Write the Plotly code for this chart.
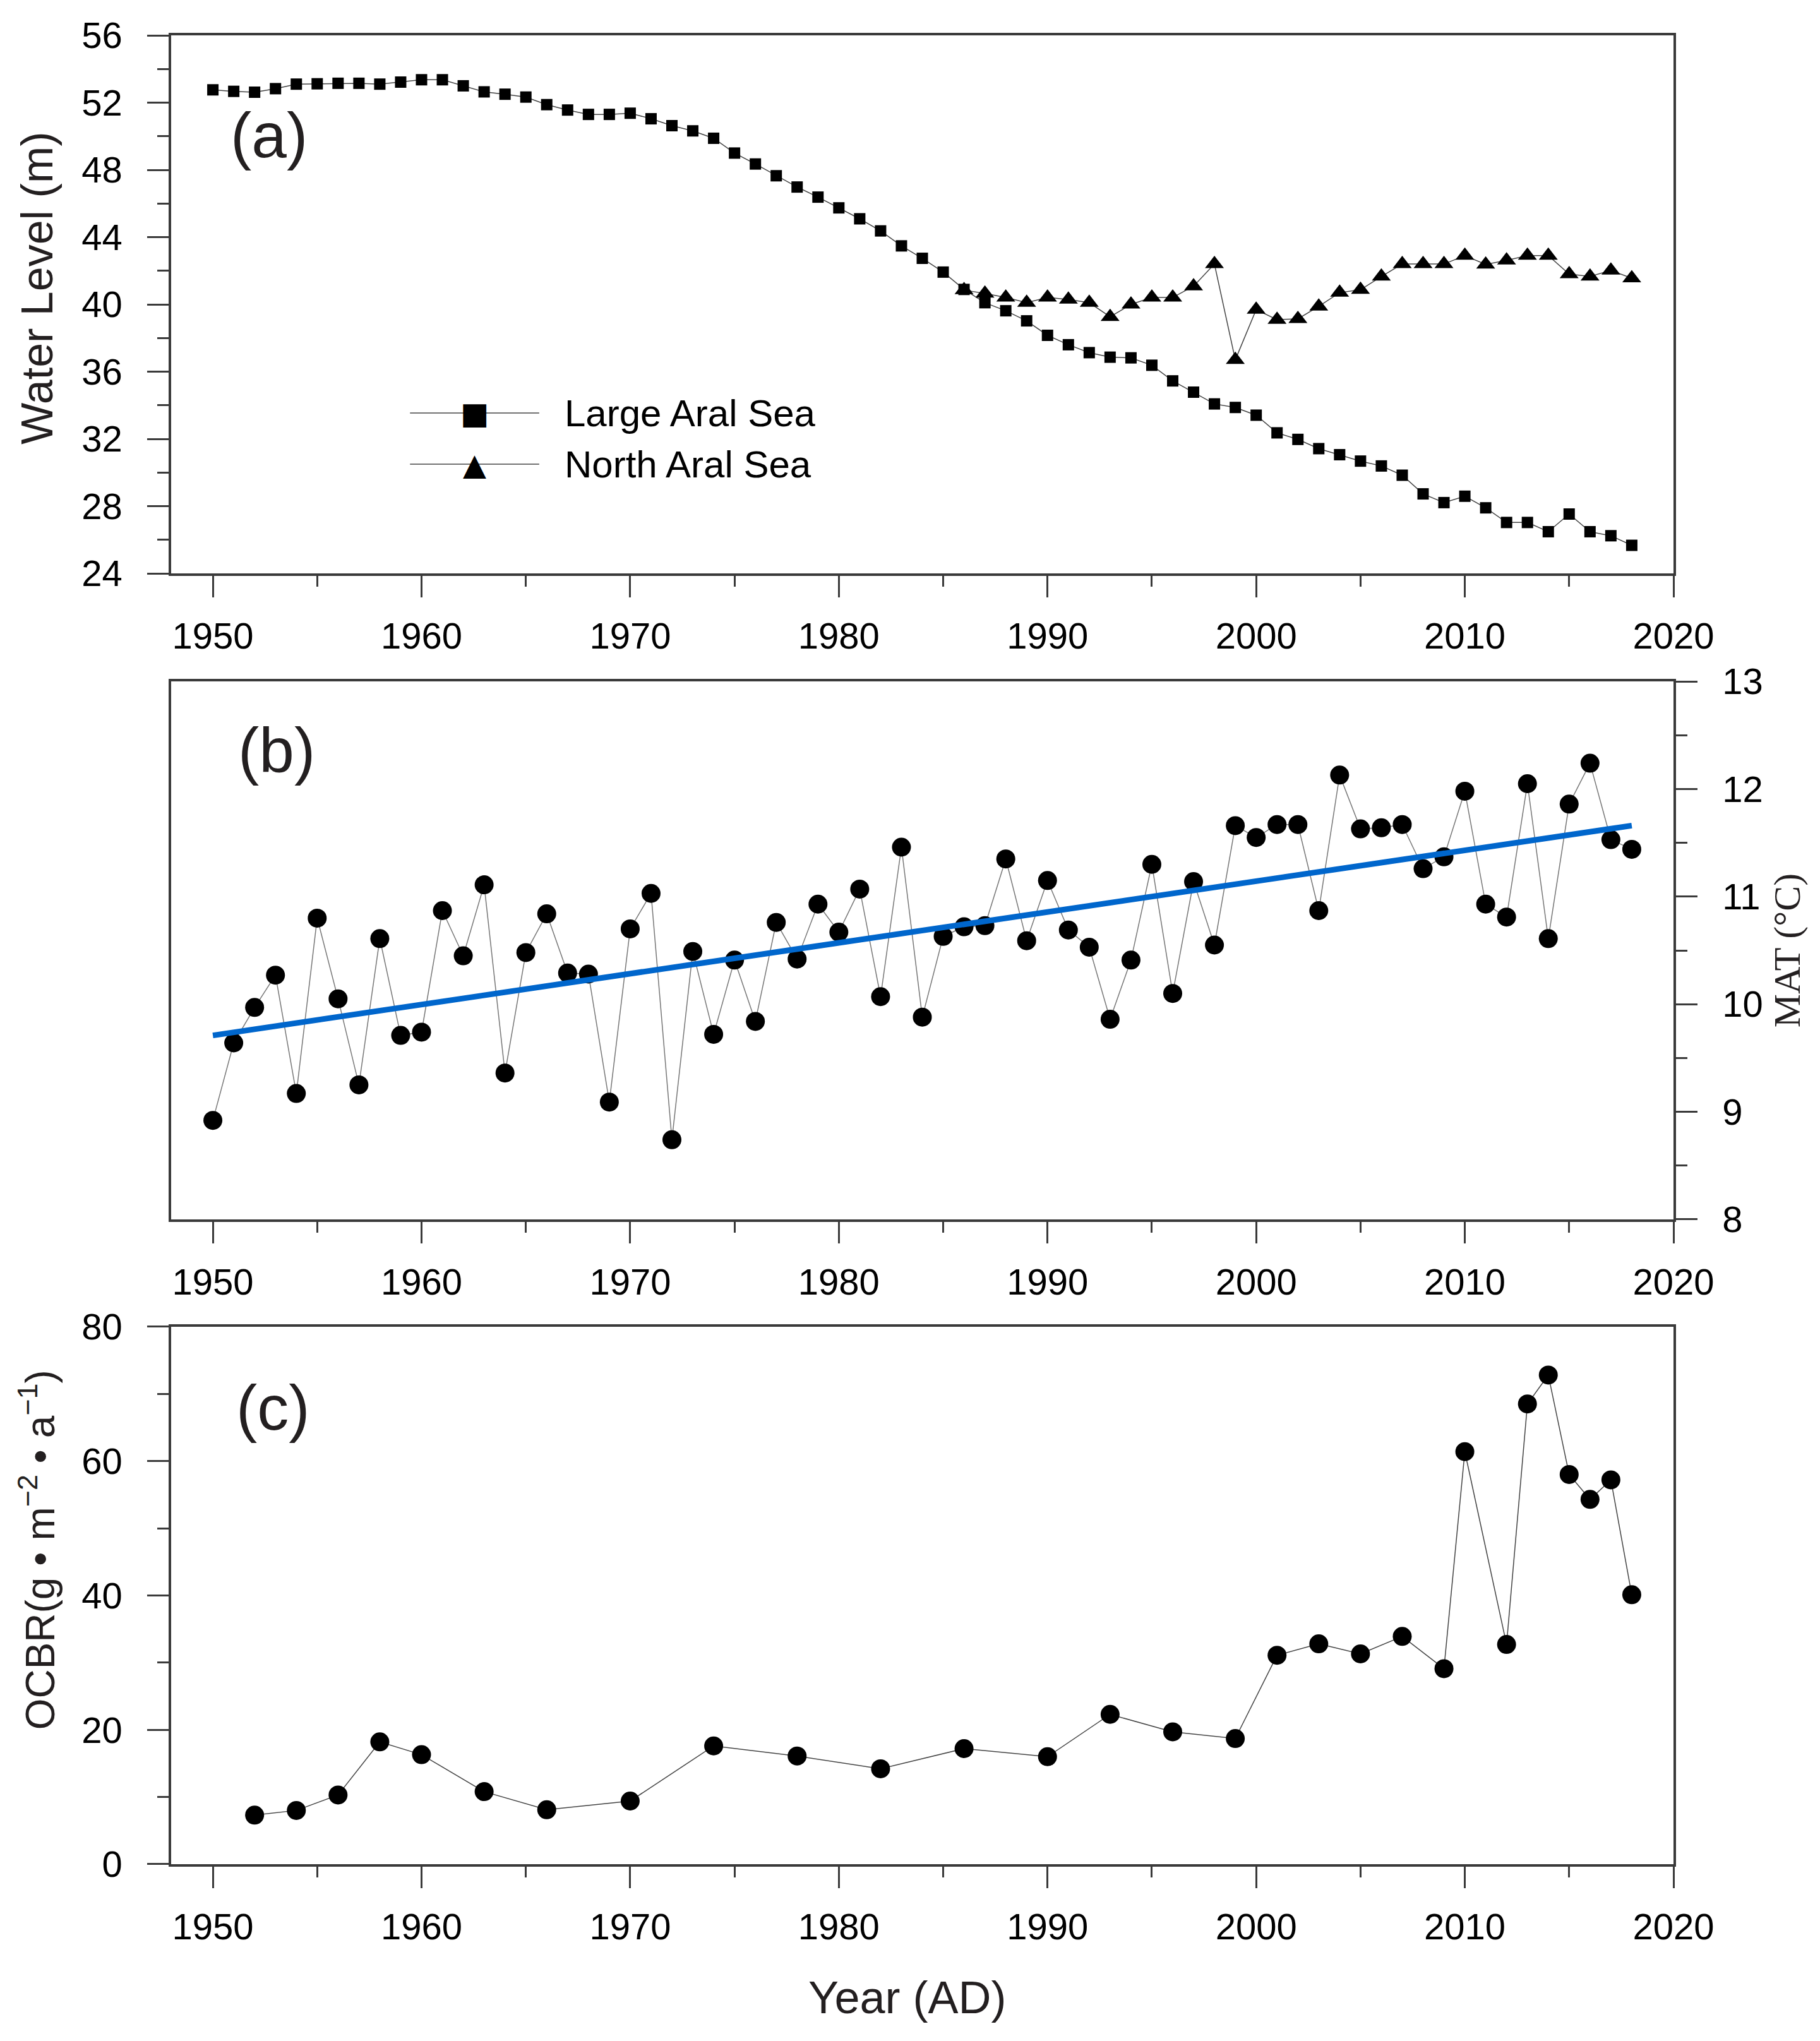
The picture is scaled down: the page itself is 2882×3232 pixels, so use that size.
import plotly.graph_objects as go

# ---- data ----
years_large = list(range(1950, 2019))
level_large = [52.76, 52.67, 52.62, 52.83, 53.10, 53.12, 53.15, 53.15, 53.10, 53.22,
               53.36, 53.36, 53.00, 52.64, 52.50, 52.33, 51.88, 51.56, 51.30, 51.30,
               51.37, 51.04, 50.63, 50.32, 49.88, 49.00, 48.35, 47.65, 46.98, 46.38,
               45.74, 45.09, 44.37, 43.48, 42.74, 41.92, 40.89, 40.10, 39.62, 39.02,
               38.16, 37.60, 37.13, 36.86, 36.82, 36.38, 35.45, 34.78, 34.08, 33.87,
               33.41, 32.36, 31.97, 31.42, 31.06, 30.68, 30.39, 29.84, 28.73, 28.21,
               28.59, 27.90, 27.03, 27.03, 26.48, 27.53, 26.48, 26.24, 25.67]

years_north = list(range(1986, 2019))
level_north = [40.85, 40.65, 40.41, 40.10, 40.41, 40.29, 40.10, 39.26, 40.00, 40.41,
               40.41, 41.08, 42.40, 36.70, 39.69, 39.09, 39.14, 39.88, 40.70, 40.87,
               41.66, 42.40, 42.40, 42.40, 42.90, 42.38, 42.62, 42.90, 42.90, 41.80,
               41.66, 42.02, 41.56]

years_mat = list(range(1950, 2019))
mat = [8.92, 9.64, 9.97, 10.27, 9.17, 10.80, 10.05, 9.25, 10.61, 9.71,
       9.74, 10.87, 10.45, 11.11, 9.36, 10.48, 10.84, 10.29, 10.28, 9.09,
       10.70, 11.03, 8.74, 10.49, 9.72, 10.41, 9.84, 10.76, 10.42, 10.93,
       10.67, 11.07, 10.07, 11.46, 9.88, 10.63, 10.72, 10.73, 11.35, 10.59,
       11.15, 10.69, 10.53, 9.86, 10.41, 11.30, 10.10, 11.14, 10.55, 11.66,
       11.55, 11.67, 11.67, 10.87, 12.13, 11.63, 11.64, 11.67, 11.26, 11.37,
       11.98, 10.93, 10.81, 12.05, 10.61, 11.86, 12.24, 11.53, 11.44]

trend_years = [1950, 2018]
trend_mat = [9.71, 11.66]

years_ocbr = [1952, 1954, 1956, 1958, 1960, 1963, 1966, 1970, 1974, 1978,
              1982, 1986, 1990, 1993, 1996, 1999, 2001, 2003, 2005, 2007,
              2009, 2010, 2012, 2013, 2014, 2015, 2016, 2017, 2018]
ocbr = [7.3, 8.0, 10.3, 18.2, 16.3, 10.8, 8.1, 9.4, 17.6, 16.1,
        14.2, 17.2, 16.0, 22.3, 19.7, 18.7, 31.1, 32.8, 31.3, 33.9,
        29.1, 61.4, 32.7, 68.5, 72.8, 58.0, 54.3, 57.2, 40.1]

legend_names = ["Large Aral Sea", "North Aral Sea"]
legend_glyphs = ["■", "▲"]

FONT = "Liberation Sans, Arial, sans-serif"
AXC = "#3a3a3a"
TXT = "#231f20"

fig = go.Figure()

fig.add_trace(go.Scatter(
    x=years_large, y=level_large, mode="lines+markers", name=legend_names[0],
    line=dict(color="#444444", width=1.5),
    marker=dict(symbol="square", size=18, color="black"),
    xaxis="x", yaxis="y"))
fig.add_trace(go.Scatter(
    x=years_north, y=level_north, mode="lines+markers", name=legend_names[1],
    line=dict(color="#444444", width=1.5),
    marker=dict(symbol="triangle-up", size=26, color="black"),
    xaxis="x", yaxis="y"))

fig.add_trace(go.Scatter(
    x=years_mat, y=mat, mode="lines+markers",
    line=dict(color="#777777", width=1.5),
    marker=dict(symbol="circle", size=30, color="black"),
    xaxis="x2", yaxis="y2"))
fig.add_trace(go.Scatter(
    x=trend_years, y=trend_mat, mode="lines",
    line=dict(color="#0066CC", width=9),
    xaxis="x2", yaxis="y2"))

fig.add_trace(go.Scatter(
    x=years_ocbr, y=ocbr, mode="lines+markers",
    line=dict(color="#444444", width=1.5),
    marker=dict(symbol="circle", size=30, color="black"),
    xaxis="x3", yaxis="y3"))

xcommon = dict(range=[1948, 2020], tick0=1950, dtick=10, ticks="outside", ticklen=34,
               tickwidth=3, tickcolor=AXC, showline=True, linecolor=AXC, linewidth=3.5,
               mirror=True, showgrid=False, zeroline=False, ticklabelstandoff=12,
               tickfont=dict(family=FONT, size=58, color="black"),
               minor=dict(tick0=1950, dtick=5, ticks="outside", ticklen=17,
                          tickwidth=3, tickcolor=AXC))

ycommon = dict(ticks="outside", ticklen=34, tickwidth=3, tickcolor=AXC, showline=True,
               linecolor=AXC, linewidth=3.5, mirror=True, showgrid=False, zeroline=False,
               ticklabelstandoff=28, tickfont=dict(family=FONT, size=58, color="black"))

fig.update_layout(
    width=2882, height=3232,
    margin=dict(l=263, r=240, t=48, b=288),
    paper_bgcolor="white", plot_bgcolor="white",
    showlegend=False,
    xaxis=dict(xcommon, domain=[0, 1], anchor="y"),
    yaxis=dict(ycommon, domain=[0.7058, 1], anchor="x", range=[24, 56], tick0=24, dtick=4,
               minor=dict(dtick=2, ticks="outside", ticklen=18, tickwidth=3, tickcolor=AXC)),
    xaxis2=dict(xcommon, domain=[0, 1], anchor="y2"),
    yaxis2=dict(ycommon, domain=[0.3526, 0.6467], anchor="x2", side="right",
                range=[8, 13], dtick=1,
                minor=dict(dtick=0.5, ticks="outside", ticklen=18, tickwidth=3, tickcolor=AXC),
                title=dict(text="MAT (°C)", standoff=18,
                           font=dict(family="Liberation Serif, Times New Roman, serif",
                                     size=60, color=TXT))),
    xaxis3=dict(xcommon, domain=[0, 1], anchor="y3"),
    yaxis3=dict(ycommon, domain=[0, 0.2939], anchor="x3", range=[0, 80], dtick=20,
                minor=dict(dtick=10, ticks="outside", ticklen=18, tickwidth=3, tickcolor=AXC)),
)

# axis titles placed as annotations to match the reference offsets
fig.add_annotation(text="Water Level (m)", textangle=-90, xref="x domain", yref="y domain",
                   x=-0.089, y=0.53, xanchor="center", yanchor="middle", showarrow=False,
                   font=dict(family=FONT, size=70, color=TXT))
fig.add_annotation(text="OCBR(g • m<sup>−2</sup> • a<sup>−1</sup>)", textangle=-90,
                   xref="x3 domain", yref="y3 domain", x=-0.089, y=0.585,
                   xanchor="center", yanchor="middle", showarrow=False,
                   font=dict(family=FONT, size=64, color=TXT))
fig.add_annotation(text="Year (AD)", xref="x3 domain", yref="y3 domain",
                   x=0.49, y=-0.248, xanchor="center", yanchor="middle", showarrow=False,
                   font=dict(family=FONT, size=72, color=TXT))

# panel letters
labels = [("(a)", "x domain", "y domain", 0.065, 0.815),
          ("(b)", "x2 domain", "y2 domain", 0.070, 0.872),
          ("(c)", "x3 domain", "y3 domain", 0.068, 0.849)]
for txt, xr, yr, xx, yy in labels:
    fig.add_annotation(text=txt, xref=xr, yref=yr, x=xx, y=yy, showarrow=False,
                       xanchor="center", yanchor="middle",
                       font=dict(family=FONT, size=100, color=TXT))

# legend (drawn by hand so the symbols can be as large as in the reference)
rows_y = [0.298, 0.203]
for name, glyph, ry in zip(legend_names, legend_glyphs, rows_y):
    fig.add_shape(type="line", xref="x domain", yref="y domain",
                  x0=0.159, x1=0.245, y0=ry, y1=ry,
                  line=dict(color="#444444", width=1.5))
    fig.add_annotation(text=glyph, xref="x domain", yref="y domain", x=0.202, y=ry,
                       xanchor="center", yanchor="middle", showarrow=False,
                       font=dict(family="DejaVu Sans", size=48, color="black"))
    fig.add_annotation(text=name, xref="x domain", yref="y domain", x=0.261, y=ry,
                       xanchor="left", yanchor="middle", showarrow=False,
                       font=dict(family=FONT, size=60, color="black"))

fig.write_html("out.html")
